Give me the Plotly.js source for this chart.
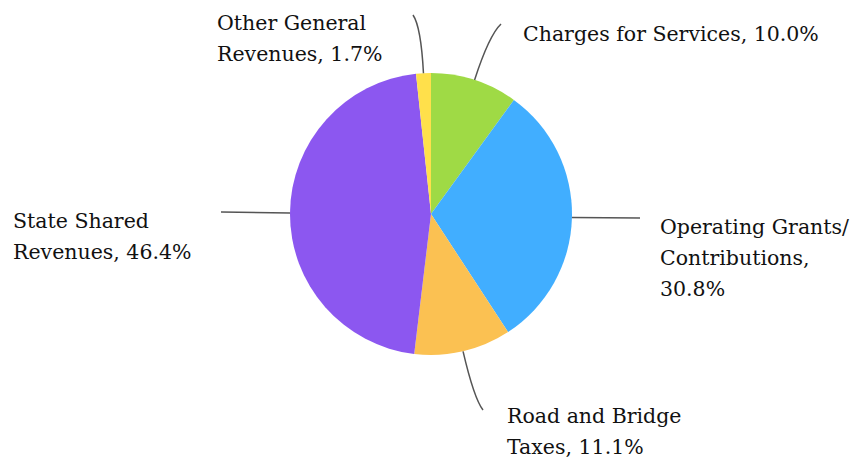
<!DOCTYPE html>
<html>
<head>
<meta charset="utf-8">
<script src="https://cdn.plot.ly/plotly-3.0.1.min.js"></script>
<style>html,body{margin:0;padding:0;background:#fff;}#chart{width:851px;height:464px;}</style>
</head>
<body>
<div id="chart"></div>
<script>
// ---- data ----
const categories = ["Charges for Services", "Operating Grants/ Contributions", "Road and Bridge Taxes", "State Shared Revenues", "Other General Revenues"];
const shares = [10.0, 30.8, 11.1, 46.4, 1.7];
const labelLines = [
  ["Charges for Services, 10.0%"],
  ["Operating Grants/", "Contributions,", "30.8%"],
  ["Road and Bridge", "Taxes, 11.1%"],
  ["State Shared", "Revenues, 46.4%"],
  ["Other General", "Revenues, 1.7%"]
];
const sliceColors = ["#9FDA45", "#41AEFF", "#FBC152", "#8C57F0", "#FFE04B"];

// ---- layout config (pixels) ----
const W = 851, H = 464;
const CX = 431, CY = 214, R = 141;
const LINE_GAP = 31;
const FONT = {family: 'DejaVu Serif', size: 20.5, color: '#111111'};
// label: left edge x, first-line centre y; leader line end point
const labelPos = [
  {x: 521, y: 34, ex: 501, ey: 24, curve: true},
  {x: 658, y: 227, ex: 640, ey: 218, curve: false},
  {x: 505, y: 416, ex: 483, ey: 410, curve: true},
  {x: 11, y: 221, ex: 221, ey: 212, curve: false},
  {x: 215, y: 23, ex: 413, ey: 15, curve: true}
];

const px = x => x / W;
const py = y => 1 - y / H;

const total = shares.reduce((a, b) => a + b, 0);
let cum = 0;
const shapes = [];
const annotations = [];
shares.forEach((v, i) => {
  const mid = (cum + v / 2) / total * 2 * Math.PI;
  cum += v;
  const dx = Math.sin(mid), dy = -Math.cos(mid);
  const sx = CX + R * dx, sy = CY + R * dy;
  const L = labelPos[i];
  let path;
  if (L.curve) {
    const ty = L.ey + (sy - L.ey) * 0.2;
    const t = (ty - sy) / dy;
    const cxp = sx + dx * t, cyp = ty;
    path = `M ${px(sx)},${py(sy)} Q ${px(cxp)},${py(cyp)} ${px(L.ex)},${py(L.ey)}`;
  } else {
    path = `M ${px(sx)},${py(sy)} L ${px(L.ex)},${py(L.ey)}`;
  }
  shapes.push({type: 'path', xref: 'paper', yref: 'paper', path: path,
    line: {color: '#555555', width: 1.5}});
  labelLines[i].forEach((line, k) => {
    annotations.push({
      xref: 'paper', yref: 'paper', x: px(L.x), y: py(L.y + k * LINE_GAP),
      xanchor: 'left', yanchor: 'middle', align: 'left',
      showarrow: false, text: line, font: FONT
    });
  });
});

const trace = {
  type: 'pie',
  labels: categories,
  values: shares,
  sort: false,
  direction: 'clockwise',
  rotation: 0,
  marker: {colors: sliceColors, line: {width: 0}},
  textinfo: 'none',
  hoverinfo: 'label+percent',
  showlegend: false,
  domain: {x: [px(CX - R), px(CX + R)], y: [py(CY + R), py(CY - R)]}
};

const layout = {
  width: W, height: H,
  margin: {l: 0, r: 0, t: 0, b: 0},
  paper_bgcolor: '#ffffff',
  plot_bgcolor: '#ffffff',
  showlegend: false,
  shapes: shapes,
  annotations: annotations
};

Plotly.newPlot('chart', [trace], layout, {displayModeBar: false, staticPlot: true});
</script>
</body>
</html>
